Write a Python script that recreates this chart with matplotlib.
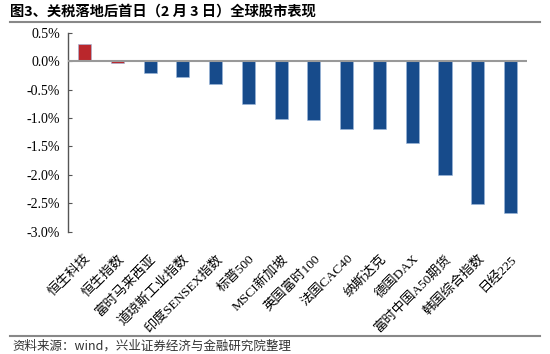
import matplotlib
matplotlib.use('Agg')
import matplotlib.pyplot as plt
from matplotlib.ticker import FuncFormatter, MultipleLocator
from matplotlib.lines import Line2D

plt.rcParams['font.family'] = ['Liberation Serif', 'Noto Sans CJK SC', 'DejaVu Sans']
plt.rcParams['axes.unicode_minus'] = False

# 关税落地后首日（2月3日）各指数涨跌幅（%）
markets = ['恒生科技', '恒生指数', '富时马来西亚', '道琼斯工业指数', '印度SENSEX指数',
           '标普500', 'MSCI新加坡', '英国富时100', '法国CAC40', '纳斯达克',
           '德国DAX', '富时中国A50期货', '韩国综合指数', '日经225']
changes = [0.30, -0.03, -0.20, -0.27, -0.40, -0.76, -1.02, -1.04, -1.19, -1.20,
           -1.44, -2.01, -2.52, -2.67]

RED = '#BA272C'
BLUE = '#174B8B'
colors = [RED if i < 2 else BLUE for i in range(len(changes))]

fig = plt.figure(figsize=(5.5, 3.54), dpi=100)
ax = fig.add_axes([0.124, 0.3455, 0.834, 0.562])

x = range(len(markets))
ax.bar(x, changes, width=0.4, color=colors, edgecolor='#9DB8DD', linewidth=0.4, zorder=2)
ax.axhline(0, color='#999999', linewidth=1.5, zorder=3)

ax.set_xlim(-0.5, len(markets) - 0.5)
ax.set_ylim(-3.0, 0.5)
ax.yaxis.set_major_locator(MultipleLocator(0.5))
ax.yaxis.set_major_formatter(FuncFormatter(lambda v, p: f'{v:.1f}%'))

for s in ['top', 'right', 'bottom']:
    ax.spines[s].set_visible(False)
ax.spines['left'].set_color('#555555')
ax.spines['left'].set_linewidth(1.0)
ax.tick_params(axis='y', direction='in', length=3, color='#555555', labelsize=10, pad=6)
ax.tick_params(axis='x', length=0, pad=15)
ax.set_xticks(list(x))
ax.set_xticklabels(markets, rotation=45, ha='right', va='top', rotation_mode='anchor',
                   fontsize=9.6)

# 标题与分隔线
fig.text(0.018, 0.968, '图3、关税落地后首日（2 月 3 日）全球股市表现', fontsize=10.3,
         fontweight='bold', family=['Noto Sans CJK SC', 'DejaVu Sans'], va='center', ha='left')
fig.add_artist(Line2D([0.018, 0.982], [0.938, 0.938], color='#888888', linewidth=1.5))
fig.add_artist(Line2D([0.018, 0.982], [0.052, 0.052], color='#888888', linewidth=1.5))
fig.text(0.022, 0.021, '资料来源：wind，兴业证券经济与金融研究院整理', fontsize=9,
         family=['Noto Sans CJK SC', 'DejaVu Sans'], color='#333333', va='center', ha='left')

fig.savefig('out.png', dpi=100)
